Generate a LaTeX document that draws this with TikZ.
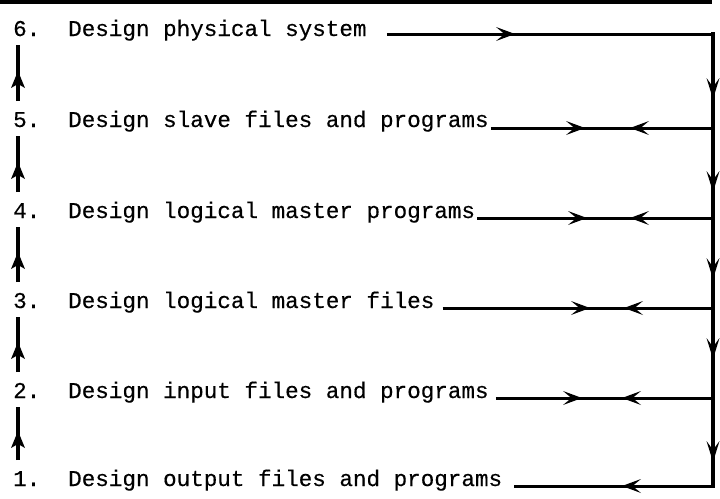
\documentclass[tikz,border=0pt]{standalone}
\usepackage{fontspec}
\setmonofont{Liberation Mono}[FakeBold=0.4]
\tikzset{
  lbl/.style={font=\ttfamily\fontsize{22.6}{27}\selectfont, inner sep=0pt, anchor=base west},
  conn/.style={line width=3pt},
  upline/.style={line width=3.3pt},
  loopline/.style={line width=3pt, line join=miter},
  rightside/.style={line width=3.6pt, line cap=rect},
}
% arrowheads drawn as filled shapes (tip at the given coordinate)
\newcommand{\headR}[1]{\fill (#1) -- ++(-19,-7) -- ++(8.5,7) -- ++(-8.5,7) -- cycle;}
\newcommand{\headL}[1]{\fill (#1) -- ++(19,-7) -- ++(-8.5,7) -- ++(8.5,7) -- cycle;}
\newcommand{\headD}[1]{\fill (#1) -- ++(-6.5,-21) -- ++(6.5,9) -- ++(6.5,-9) -- cycle;}
\newcommand{\headU}[1]{\fill (#1) -- ++(-7,17) -- ++(7,-4) -- ++(7,4) -- cycle;}
\begin{document}
\begin{tikzpicture}[x=1pt,y=-1pt]
\useasboundingbox (0,0) rectangle (720,498);
\draw[line width=4pt] (0,2) -- (712,2);

\node[lbl] (n6) at (13,36) {6.};
\node[lbl] (t6) at (68,36) {Design physical system};
\node[lbl] (n5) at (13,127) {5.};
\node[lbl] (t5) at (68,127) {Design slave files and programs};
\node[lbl] (n4) at (13,218) {4.};
\node[lbl] (t4) at (68,218) {Design logical master programs};
\node[lbl] (n3) at (13,308) {3.};
\node[lbl] (t3) at (68,308) {Design logical master files};
\node[lbl] (n2) at (13,398) {2.};
\node[lbl] (t2) at (68,398) {Design input files and programs};
\node[lbl] (n1) at (13,486) {1.};
\node[lbl] (t1) at (68,486) {Design output files and programs};

% right-hand junctions
\coordinate (r6) at (713,34);
\coordinate (r5) at (713,128);
\coordinate (r4) at (713,218);
\coordinate (r3) at (713,308);
\coordinate (r2) at (713,398);
\coordinate (r1) at (713,486);
% arrow tips on the horizontal lines
\coordinate (a6) at (515,34);
\coordinate (a5) at (585,128);  \coordinate (b5) at (630,128);
\coordinate (a4) at (587,218);  \coordinate (b4) at (630,218);
\coordinate (a3) at (590,308);  \coordinate (b3) at (624,308);
\coordinate (a2) at (582,398);  \coordinate (b2) at (622,398);
\coordinate (c1) at (622,486);
% arrow tips on the right vertical
\coordinate (d65) at (713,99);
\coordinate (d54) at (713,192);
\coordinate (d43) at (713,279);
\coordinate (d32) at (713,359);
\coordinate (d21) at (713,462);
% arrow tips on the left verticals
\coordinate (u56) at (18,71);
\coordinate (u45) at (18,162);
\coordinate (u34) at (18,252);
\coordinate (u23) at (18,342);
\coordinate (u12) at (18,431);

% outer loop: row 6 -> right side -> row 1
\draw[loopline] ([xshift=20pt,yshift=2pt]t6.base east) -- (r6);
\draw[rightside] (r6) -- (r1);
\draw[loopline] (r1) -- ([xshift=12pt]t1.base east);
% rows 5..2
\draw[conn] ([xshift=2pt,yshift=-1pt]t5.base east) -- (r5);
\draw[conn] ([xshift=2pt]t4.base east) -- (r4);
\draw[conn] ([xshift=8pt]t3.base east) -- (r3);
\draw[conn] ([xshift=7pt]t2.base east) -- (r2);

% left verticals
\draw[upline] ([xshift=5pt,yshift=26pt]n5.base west) -- ([xshift=5pt,yshift=-9pt]n6.base west);
\draw[upline] ([xshift=5pt,yshift=26pt]n4.base west) -- ([xshift=5pt,yshift=-9pt]n5.base west);
\draw[upline] ([xshift=5pt,yshift=26pt]n3.base west) -- ([xshift=5pt,yshift=-9pt]n4.base west);
\draw[upline] ([xshift=5pt,yshift=26pt]n2.base west) -- ([xshift=5pt,yshift=-9pt]n3.base west);
\draw[upline] ([xshift=5pt,yshift=26pt]n1.base west) -- ([xshift=5pt,yshift=-9pt]n2.base west);

% arrowheads
\headR{a6}
\headR{a5} \headL{b5}
\headR{a4} \headL{b4}
\headR{a3} \headL{b3}
\headR{a2} \headL{b2}
\headL{c1}
\headD{d65} \headD{d54} \headD{d43} \headD{d32} \headD{d21}
\headU{u56} \headU{u45} \headU{u34} \headU{u23} \headU{u12}
\end{tikzpicture}
\end{document}
